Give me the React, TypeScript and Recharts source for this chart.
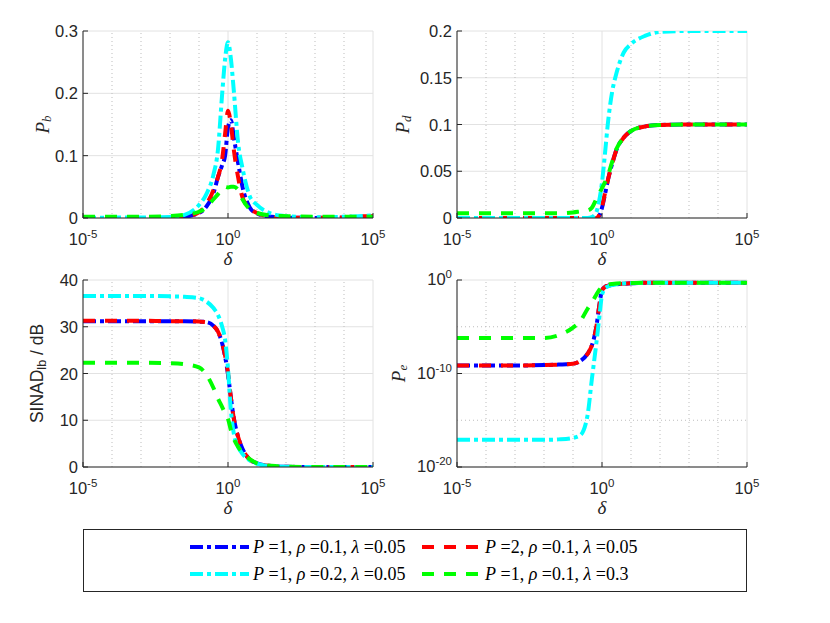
import React from 'react'
import { LineChart, Line, XAxis, YAxis, CartesianGrid, ReferenceLine } from 'recharts'

// δ sample points (log-spaced, denser around δ = 1)
const delta = [
  1e-5, 1e-3, 1e-2, 0.0316, 0.1, 0.178, 0.316, 0.447, 0.631, 0.794, 1, 1.26, 1.58, 2.24, 3.16, 5.62,
  10, 31.6, 100, 1e3, 1e4, 3.16e4, 1e5,
]

// P_b
const pbBlue = [0, 0, 0.0005, 0.002, 0.008, 0.018, 0.04, 0.065, 0.085, 0.1, 0.145, 0.157, 0.13, 0.088, 0.05, 0.017, 0.007, 0.002, 0.0007, 0.0002, 0.0005, 0.001, 0.002]
const pbRed = [0, 0, 0.0005, 0.002, 0.009, 0.022, 0.045, 0.065, 0.095, 0.135, 0.172, 0.15, 0.11, 0.065, 0.033, 0.016, 0.008, 0.002, 0.0008, 0.0003, 0.001, 0.003, 0.003]
const pbCyan = [0.0005, 0.0008, 0.0018, 0.005, 0.021, 0.038, 0.07, 0.108, 0.2, 0.255, 0.282, 0.255, 0.205, 0.12, 0.08, 0.035, 0.021, 0.007, 0.003, 0.001, 0.002, 0.003, 0.004]
const pbGreen = [0.002, 0.002, 0.003, 0.005, 0.01, 0.017, 0.03, 0.038, 0.046, 0.05, 0.049, 0.05, 0.05, 0.045, 0.03, 0.014, 0.008, 0.004, 0.003, 0.002, 0.002, 0.002, 0.002]

// P_d
const pdBlue = [0, 0, 0, 0, 0, 0, 0, 0, 0, 0.002, 0.011, 0.025, 0.04, 0.058, 0.073, 0.086, 0.093, 0.098, 0.0995, 0.1, 0.1, 0.1, 0.1]
const pdRed = [0, 0, 0, 0, 0, 0, 0, 0, 0, 0.003, 0.012, 0.026, 0.04, 0.058, 0.073, 0.086, 0.093, 0.098, 0.0995, 0.1, 0.1, 0.1, 0.1]
const pdCyan = [0, 0, 0, 0, 0, 0, 0, 0.001, 0.006, 0.018, 0.038, 0.068, 0.1, 0.135, 0.155, 0.177, 0.186, 0.195, 0.199, 0.2, 0.2, 0.2, 0.2]
const pdGreen = [0.005, 0.005, 0.005, 0.005, 0.006, 0.007, 0.008, 0.011, 0.02, 0.026, 0.032, 0.038, 0.045, 0.06, 0.074, 0.086, 0.093, 0.098, 0.0995, 0.1, 0.1, 0.1, 0.1]

// SINAD_lb in dB
const snBlue = [31.2, 31.2, 31.2, 31.2, 31.1, 31, 30.2, 29, 26.4, 23.6, 19.8, 14.8, 10.5, 6.4, 3.9, 1.6, 0.8, 0.2, 0.05, 0, 0, 0, 0]
const snRed = [31.3, 31.3, 31.2, 31.2, 31.1, 31, 30.2, 29, 26.5, 23.8, 20.1, 14.8, 10.5, 6.4, 3.9, 1.6, 0.8, 0.2, 0.05, 0, 0, 0, 0]
const snCyan = [36.6, 36.6, 36.5, 36.4, 36.1, 35.4, 34, 32.6, 30, 27.2, 21, 12, 7.2, 4.3, 2.8, 1.4, 0.7, 0.15, 0.05, 0, 0, 0, 0]
const snGreen = [22.3, 22.3, 22.2, 22, 21.3, 19.8, 16.9, 14.7, 12.8, 11.5, 10.3, 7.9, 6.1, 4.3, 3.1, 1.7, 0.8, 0.25, 0.08, 0, 0, 0, 0]

// P_e
const peBlue = [7e-10, 7e-10, 8e-10, 9e-10, 1.1e-9, 2.2e-9, 1.25e-8, 1e-7, 8e-6, 1.25e-3, 0.08, 0.18, 0.24, 0.3, 0.35, 0.4, 0.44, 0.5, 0.5, 0.5, 0.5, 0.5, 0.5]
const peRed = [7e-10, 7e-10, 8e-10, 9e-10, 1.1e-9, 2.2e-9, 1.25e-8, 1e-7, 8e-6, 1.25e-3, 0.08, 0.18, 0.24, 0.3, 0.35, 0.4, 0.44, 0.5, 0.5, 0.5, 0.5, 0.5, 0.5]
const peCyan = [8e-18, 8e-18, 8e-18, 9e-18, 1.3e-17, 2.5e-17, 3.2e-15, 2.5e-11, 1.3e-7, 6.3e-5, 0.025, 0.126, 0.2, 0.28, 0.35, 0.42, 0.46, 0.5, 0.5, 0.5, 0.5, 0.5, 0.5]
const peGreen = [6.3e-7, 6.3e-7, 6.3e-7, 1.25e-6, 8e-6, 4e-5, 8e-4, 4e-3, 0.025, 0.08, 0.18, 0.28, 0.33, 0.38, 0.42, 0.46, 0.48, 0.5, 0.5, 0.5, 0.5, 0.5, 0.5]

// legend parameters
const legP = [1, 2, 1, 1]
const legRho = [0.1, 0.1, 0.2, 0.1]
const legLambda = [0.05, 0.05, 0.05, 0.3]

const xTicks = [1e-5, 1, 1e5]
const xMinor = [1e-4, 1e-3, 1e-2, 1e-1, 1e1, 1e2, 1e3, 1e4]

const series = [
  { key: 'blue', color: '#0000ff', dash: '13 4 4 4' },
  { key: 'red', color: '#ff0000', dash: '12 10' },
  { key: 'cyan', color: '#00ffff', dash: '13 4 4 4' },
  { key: 'green', color: '#00ff00', dash: '12 10' },
]

const SANS = '"Liberation Sans", Arial, Helvetica, sans-serif'
const SERIF = '"Liberation Serif", "Times New Roman", serif'
const AXIS = '#262626'
const GRID = '#e2e2e2'
const MINOR = '#bdbdbd'
const LW = 4

function Pow({ x, y, value, anchor }: { x: number; y: number; value: number; anchor: string }) {
  const e = Math.round(Math.log10(value))
  return (
    <text x={x} y={y} textAnchor={anchor} fill={AXIS} fontSize={16.5} fontFamily={SANS}>
      10
      <tspan dy={-7} fontSize={11.5}>
        {e}
      </tspan>
    </text>
  )
}

// axis titles; px/py/rot are our own props so recharts' injected x/y do not move them
function Title({ px, py, rot, serif, children }: any) {
  return (
    <text
      x={px}
      y={py}
      transform={rot ? `rotate(-90 ${px} ${py})` : undefined}
      textAnchor="middle"
      dominantBaseline={rot ? 'central' : 'auto'}
      fill={AXIS}
      fontFamily={serif ? SERIF : SANS}
      fontStyle={serif ? 'italic' : 'normal'}
      fontSize={serif ? 19 : 17.5}
    >
      {children}
    </text>
  )
}

type PanelProps = {
  box: number[]
  plot: number[]
  values: number[][]
  yDomain: number[]
  yTicks: number[]
  yLog?: boolean
  yMinor?: number[]
  yLabel: React.ReactNode
  yLabelX: number
  serifLabel?: boolean
}

function Panel(p: PanelProps) {
  const [cl, ct, cw, ch] = p.box
  const [x0, y0, x1, y1] = p.plot
  const rows = delta.map((d, i) => {
    const r: Record<string, number> = { delta: d }
    series.forEach((s, k) => {
      r[s.key] = p.values[k][i]
    })
    return r
  })
  const bottom = y1 - ct
  const left = x0 - cl
  const midX = (x0 + x1) / 2 - cl
  const midY = (y0 + y1) / 2 - ct
  const lx = p.yLabelX - cl
  const yScale = p.yLog ? 'log' : 'linear'

  return (
    <div style={{ position: 'absolute', left: cl, top: ct }}>
      <LineChart
        width={cw}
        height={ch}
        data={rows}
        margin={{ top: y0 - ct, right: cl + cw - x1, bottom: 0, left: 0 }}
      >
        <CartesianGrid stroke={GRID} strokeWidth={1} />
        {xMinor.map((v) => (
          <ReferenceLine key={'x' + v} x={v} stroke={MINOR} strokeDasharray="1 3" />
        ))}
        {(p.yMinor ?? []).map((v) => (
          <ReferenceLine key={'y' + v} y={v} stroke={MINOR} strokeDasharray="1 3" />
        ))}
        <XAxis
          dataKey="delta"
          type="number"
          scale="log"
          domain={[1e-5, 1e5]}
          allowDataOverflow
          ticks={xTicks}
          interval={0}
          height={ct + ch - y1}
          tickSize={-5}
          stroke={AXIS}
          tick={(t: any) => <Pow x={t.x} y={bottom + 27} value={t.payload.value} anchor="middle" />}
          label={
            <Title px={midX} py={bottom + 47} serif>
              δ
            </Title>
          }
        />
        <XAxis
          xAxisId="t"
          orientation="top"
          type="number"
          scale="log"
          domain={[1e-5, 1e5]}
          allowDataOverflow
          ticks={xTicks}
          interval={0}
          height={0}
          tickSize={-5}
          tick={false}
          stroke={AXIS}
        />
        <YAxis
          type="number"
          scale={yScale}
          domain={p.yDomain}
          allowDataOverflow
          ticks={p.yTicks}
          interval={0}
          width={left}
          tickSize={-5}
          stroke={AXIS}
          tick={(t: any) =>
            p.yLog ? (
              <Pow x={left - 5} y={t.y + 5} value={t.payload.value} anchor="end" />
            ) : (
              <text x={left - 5} y={t.y + 6} textAnchor="end" fill={AXIS} fontSize={16.5} fontFamily={SANS}>
                {String(t.payload.value)}
              </text>
            )
          }
          label={
            <Title px={lx} py={midY} rot serif={p.serifLabel}>
              {p.yLabel}
            </Title>
          }
        />
        <YAxis
          yAxisId="r"
          orientation="right"
          type="number"
          scale={yScale}
          domain={p.yDomain}
          allowDataOverflow
          ticks={p.yTicks}
          interval={0}
          width={0}
          tickSize={-5}
          tick={false}
          stroke={AXIS}
        />
        {series.map((s) => (
          <Line
            key={s.key}
            dataKey={s.key}
            type="monotone"
            stroke={s.color}
            strokeWidth={LW}
            strokeDasharray={s.dash}
            dot={false}
            isAnimationActive={false}
          />
        ))}
      </LineChart>
    </div>
  )
}

function LegendBox() {
  const colX = [107, 339]
  const rowY = [18, 45]
  return (
    <div
      style={{
        position: 'absolute',
        left: 83,
        top: 529,
        width: 664,
        height: 63,
        boxSizing: 'border-box',
        border: `1px solid ${AXIS}`,
        background: '#fff',
      }}
    >
      <svg width={662} height={61} style={{ position: 'absolute', left: 0, top: 0 }}>
        {series.map((s, i) => {
          const x = colX[i % 2] - 1
          const y = rowY[Math.floor(i / 2)] - 1
          return (
            <g key={s.key}>
              <line x1={x} y1={y} x2={x + 59} y2={y} stroke={s.color} strokeWidth={LW} strokeDasharray={s.dash} />
              <text x={x + 63} y={y + 6} fontFamily={SERIF} fontSize={18} fill="#000">
                <tspan fontStyle="italic">P</tspan> ={legP[i]}, <tspan fontStyle="italic">ρ</tspan> ={legRho[i]},{' '}
                <tspan fontStyle="italic">λ</tspan> ={legLambda[i]}
              </text>
            </g>
          )
        })}
      </svg>
    </div>
  )
}

export default function App() {
  return (
    <div style={{ position: 'absolute', left: 0, top: 0, width: 830, height: 623, background: '#fff', overflow: 'hidden' }}>
      <Panel
        box={[0, 0, 395, 270]}
        plot={[83, 31, 373, 218]}
        values={[pbBlue, pbRed, pbCyan, pbGreen]}
        yDomain={[0, 0.3]}
        yTicks={[0, 0.1, 0.2, 0.3]}
        serifLabel
        yLabelX={42}
        yLabel={
          <>
            P<tspan fontSize={13} dy={4}>b</tspan>
          </>
        }
      />
      <Panel
        box={[385, 0, 445, 270]}
        plot={[457, 31, 747, 218]}
        values={[pdBlue, pdRed, pdCyan, pdGreen]}
        yDomain={[0, 0.2]}
        yTicks={[0, 0.05, 0.1, 0.15, 0.2]}
        serifLabel
        yLabelX={402}
        yLabel={
          <>
            P<tspan fontSize={13} dy={4}>d</tspan>
          </>
        }
      />
      <Panel
        box={[0, 250, 395, 280]}
        plot={[83, 280, 373, 467]}
        values={[snBlue, snRed, snCyan, snGreen]}
        yDomain={[0, 40]}
        yTicks={[0, 10, 20, 30, 40]}
        yLabelX={37}
        yLabel={
          <>
            SINAD<tspan fontSize={12.5} dy={5}>lb</tspan>
            <tspan dy={-5}> / dB</tspan>
          </>
        }
      />
      <Panel
        box={[385, 250, 445, 280]}
        plot={[457, 280, 747, 467]}
        values={[peBlue, peRed, peCyan, peGreen]}
        yDomain={[1e-20, 1]}
        yTicks={[1e-20, 1e-10, 1]}
        yLog
        yMinor={[1e-15, 1e-5]}
        serifLabel
        yLabelX={398}
        yLabel={
          <>
            P<tspan fontSize={13} dy={4}>e</tspan>
          </>
        }
      />
      <LegendBox />
    </div>
  )
}
